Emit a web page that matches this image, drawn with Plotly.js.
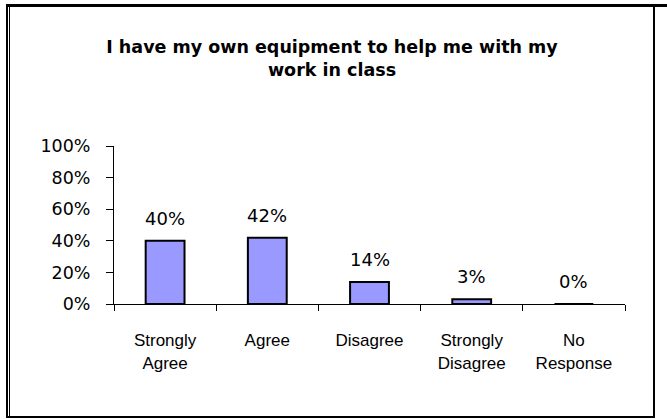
<!DOCTYPE html>
<html>
<head>
<meta charset="utf-8">
<script src="https://cdn.plot.ly/plotly-3.0.1.min.js"></script>
<style>
  html, body { margin: 0; padding: 0; background: #ffffff; }
  #chart { width: 667px; height: 419px; }
</style>
</head>
<body>
<div id="chart"></div>
<script>
// ---- data ----
const categories = ['Strongly<br>Agree', 'Agree', 'Disagree', 'Strongly<br>Disagree', 'No<br>Response'];
const values = [0.40, 0.42, 0.14, 0.03, 0.00];
const yTickVals = [0, 0.2, 0.4, 0.6, 0.8, 1.0];
const titleText = 'I have my own equipment to help me with my<br>work in class';

// ---- layout geometry (pixels) ----
const W = 667, H = 419;
const M = { l: 114, r: 42, t: 146, b: 115 };
const PW = W - M.l - M.r, PH = H - M.t - M.b;
const px = x => (x - M.l) / PW;
const py = y => (H - M.b - y) / PH;

function hline(x0, x1, y, w) {
  return { type: 'line', xref: 'paper', yref: 'paper', x0: px(x0), x1: px(x1), y0: py(y), y1: py(y),
           line: { color: '#000', width: w }, layer: 'above' };
}
function vline(x, y0, y1, w) {
  return { type: 'line', xref: 'paper', yref: 'paper', x0: px(x), x1: px(x), y0: py(y0), y1: py(y1),
           line: { color: '#000', width: w }, layer: 'above' };
}

const shapes = [
  hline(6, 667, 5.5, 3),
  vline(7, 4, 418, 2),
  vline(9.5, 7, 416, 1),
  vline(654, 4, 418, 2),
  hline(6, 655, 417, 2)
];

const annotations = categories.map((c, i) => ({
  x: c, y: values[i], xref: 'x', yref: 'y',
  text: Math.round(values[i] * 100) + '%',
  showarrow: false, yanchor: 'bottom', xanchor: 'center', yshift: 10,
  font: { family: 'DejaVu Sans', size: 18, color: '#000' }
}));

const trace = {
  type: 'bar',
  x: categories,
  y: values,
  marker: { color: '#9999FF', line: { color: '#000000', width: 2 } },
  hoverinfo: 'none'
};

const layout = {
  width: W, height: H,
  margin: M,
  paper_bgcolor: '#ffffff',
  plot_bgcolor: '#ffffff',
  showlegend: false,
  bargap: 0.62,
  title: {
    text: titleText,
    font: { family: 'DejaVu Sans', size: 17.5, color: '#000', weight: 'bold' },
    x: 332 / W, xref: 'container', xanchor: 'center',
    y: 1 - 53 / H, yref: 'container', yanchor: 'middle'
  },
  xaxis: {
    type: 'category',
    showline: true, linecolor: '#000', linewidth: 1,
    ticks: 'outside', tickson: 'boundaries', ticklen: 6, tickcolor: '#000', tickwidth: 1,
    showgrid: false, zeroline: false,
    ticklabelstandoff: 21,
    tickfont: { family: 'Liberation Sans', size: 17, color: '#000' },
    fixedrange: true
  },
  yaxis: {
    range: [0, 1],
    tickvals: yTickVals,
    tickformat: '.0%',
    showline: true, linecolor: '#000', linewidth: 1,
    ticks: 'outside', ticklen: 7, tickcolor: '#000', tickwidth: 1,
    showgrid: false, zeroline: false,
    ticklabelstandoff: 12,
    tickfont: { family: 'DejaVu Sans', size: 17.5, color: '#000' },
    fixedrange: true
  },
  shapes: shapes,
  annotations: annotations
};

Plotly.newPlot('chart', [trace], layout, { staticPlot: true, displayModeBar: false });
</script>
</body>
</html>
